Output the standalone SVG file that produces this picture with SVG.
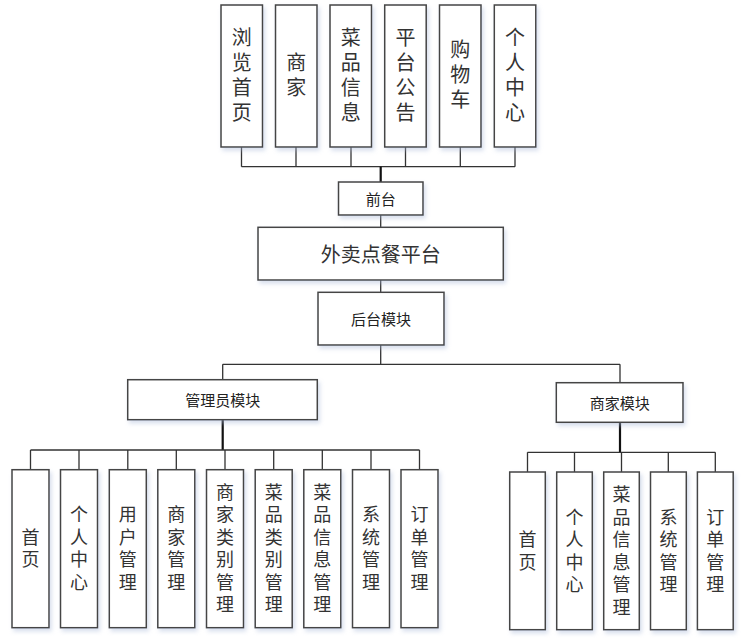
<svg xmlns="http://www.w3.org/2000/svg" width="749" height="643" viewBox="0 0 749 643">
<defs>
<filter id="sh" x="-20%" y="-20%" width="150%" height="150%">
<feDropShadow dx="2" dy="3" stdDeviation="2" flood-color="#a8b8d8" flood-opacity="0.45"/>
</filter>
<style>
.box{fill:#fff;stroke:#444;stroke-width:1.5;filter:url(#sh)}
.t{font-family:"Noto Sans CJK SC","Liberation Sans",sans-serif;fill:#333;text-anchor:middle;dominant-baseline:central}
.v{font-family:"Noto Sans CJK SC","Liberation Sans",sans-serif;fill:#333;text-anchor:middle;writing-mode:vertical-rl}
.big{font-size:20px}
.vb{font-size:20px;letter-spacing:5px}
.vs{font-size:18px;letter-spacing:4.5px}
.mid{font-size:15px;fill:#222}
.ln{fill:none;stroke:#333;stroke-width:1.3}
.thk{fill:none;stroke:#111;stroke-width:2.2}
</style>
</defs>
<rect width="749" height="643" fill="#fff"/>
<g id="connectors">
<path class="ln" d="M241.5 147V166.7M296 147V166.7M351 147V166.7M405.5 147V166.7M460.3 147V166.7M515 147V166.7M241.5 166.7H515"/>
<path class="thk" d="M380.7 166.7V182"/>
<path class="ln" d="M380.7 215V227.3M380.7 280V292.3M380.7 345V364.3M222.7 364.3H620M222.7 364.3V379.7M620 364.3V382.7"/>
<path class="thk" d="M222.7 419.7V450M620 422.3V452.3"/>
<path class="ln" d="M30.5 450H419.5M30.5 450V469.7M79 450V469.7M127.8 450V469.7M176.3 450V469.7M225 450V469.7M273.7 450V469.7M322.3 450V469.7M371 450V469.7M419.5 450V469.7"/>
<path class="ln" d="M527.5 452.3H715.3M527.5 452.3V472M574.5 452.3V472M621.5 452.3V472M668.3 452.3V472M715.3 452.3V472"/>
</g>
<g id="top1"><rect class="box" x="221" y="5" width="41.5" height="142"/><text class="v vb" x="241.7" y="77">浏览首页</text></g>
<g id="top2"><rect class="box" x="275.5" y="5" width="41.5" height="142"/><text class="v vb" x="296.2" y="77">商家</text></g>
<g id="top3"><rect class="box" x="330" y="5" width="41.5" height="142"/><text class="v vb" x="350.8" y="77">菜品信息</text></g>
<g id="top4"><rect class="box" x="384.7" y="5" width="41.5" height="142"/><text class="v vb" x="405.5" y="77">平台公告</text></g>
<g id="top5"><rect class="box" x="439.5" y="5" width="41.5" height="142"/><text class="v vb" x="460.3" y="77">购物车</text></g>
<g id="top6"><rect class="box" x="494.3" y="5" width="41.5" height="142"/><text class="v vb" x="515" y="77">个人中心</text></g>
<g id="qiantai"><rect class="box" x="338.5" y="182" width="84.5" height="33"/><text class="t mid" x="380.7" y="198.5">前台</text></g>
<g id="platform"><rect class="box" x="258" y="227.3" width="245.3" height="52.7"/><text class="t big" x="380.7" y="253.5">外卖点餐平台</text></g>
<g id="houtai"><rect class="box" x="318" y="292.3" width="126" height="52.7"/><text class="t mid" x="381" y="318.5">后台模块</text></g>
<g id="admin"><rect class="box" x="127.7" y="379.7" width="189.6" height="40"/><text class="t mid" x="222.7" y="399.5">管理员模块</text></g>
<g id="merchant"><rect class="box" x="556.3" y="382.7" width="126.7" height="39.6"/><text class="t mid" x="619.7" y="402.5">商家模块</text></g>
<g id="a1"><rect class="box" x="12" y="469.7" width="37" height="158"/><text class="v vs" x="30.5" y="550.5">首页</text></g>
<g id="a2"><rect class="box" x="60.5" y="469.7" width="37" height="158"/><text class="v vs" x="79" y="550.5">个人中心</text></g>
<g id="a3"><rect class="box" x="109.3" y="469.7" width="37" height="158"/><text class="v vs" x="127.8" y="550.5">用户管理</text></g>
<g id="a4"><rect class="box" x="157.8" y="469.7" width="37" height="158"/><text class="v vs" x="176.3" y="550.5">商家管理</text></g>
<g id="a5"><rect class="box" x="206.5" y="469.7" width="37" height="158"/><text class="v vs" x="225" y="550.5">商家类别管理</text></g>
<g id="a6"><rect class="box" x="255.2" y="469.7" width="37" height="158"/><text class="v vs" x="273.7" y="550.5">菜品类别管理</text></g>
<g id="a7"><rect class="box" x="303.8" y="469.7" width="37" height="158"/><text class="v vs" x="322.3" y="550.5">菜品信息管理</text></g>
<g id="a8"><rect class="box" x="352.5" y="469.7" width="37" height="158"/><text class="v vs" x="371" y="550.5">系统管理</text></g>
<g id="a9"><rect class="box" x="401" y="469.7" width="37" height="158"/><text class="v vs" x="419.5" y="550.5">订单管理</text></g>
<g id="m1"><rect class="box" x="509.7" y="472" width="35.6" height="157.7"/><text class="v vs" x="527.5" y="553">首页</text></g>
<g id="m2"><rect class="box" x="556.7" y="472" width="35.6" height="157.7"/><text class="v vs" x="574.5" y="553">个人中心</text></g>
<g id="m3"><rect class="box" x="603.7" y="472" width="35.6" height="157.7"/><text class="v vs" x="621.5" y="553">菜品信息管理</text></g>
<g id="m4"><rect class="box" x="650.5" y="472" width="35.8" height="157.7"/><text class="v vs" x="668.4" y="553">系统管理</text></g>
<g id="m5"><rect class="box" x="697.4" y="472" width="35.8" height="157.7"/><text class="v vs" x="715.3" y="553">订单管理</text></g>
</svg>
